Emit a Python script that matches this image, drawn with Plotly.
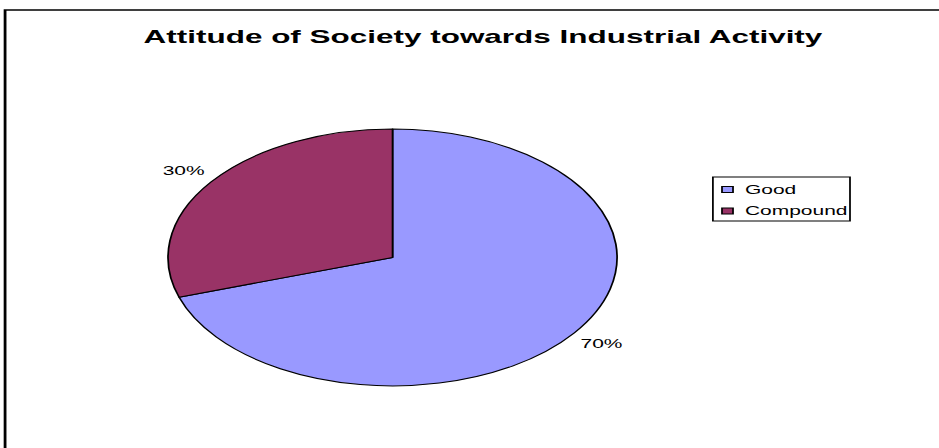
import math
import plotly.graph_objects as go

# Survey result: attitude of society towards industrial activity
categories = ["Good", "Compound"]
values = [70, 30]
colors = ["#9999FF", "#993366"]
title_text = "Attitude of Society towards Industrial Activity"

# The chart is laid out on a narrow canvas and then widened on the page,
# which gives the squashed-wide look (oval pie, broad lettering).
PAGE_W, H = 939, 448
STRETCH = 1.7486
W = round(PAGE_W / STRETCH)  # 537
FONT = "Arial, Liberation Sans, sans-serif"


def px(x):
    return x / W


def py(y):
    return 1 - y / H


# pie placement (canvas pixels)
PIE_X0, PIE_X1, PIE_TOP, PIE_BOT = 96.1, 352.9, 129, 386
cx, cy = (PIE_X0 + PIE_X1) / 2, (PIE_TOP + PIE_BOT) / 2
radius = (PIE_BOT - PIE_TOP) / 2
LABEL_R = 1.15

fig = go.Figure()

fig.add_trace(go.Pie(
    labels=categories, values=values, sort=False,
    direction="clockwise", rotation=0,
    marker=dict(colors=colors, line=dict(color="black", width=1)),
    textinfo="none",
    domain=dict(x=[px(PIE_X0), px(PIE_X1)], y=[py(PIE_BOT), py(PIE_TOP)]),
    showlegend=False, hoverinfo="label+percent",
))

annotations = []

# percentage labels just outside each slice, at its mid angle
total = float(sum(values))
start = 90.0
for val in values:
    sweep = 360.0 * val / total
    mid = math.radians(start - sweep / 2)
    lx = cx + LABEL_R * radius * math.cos(mid)
    ly = cy - LABEL_R * radius * math.sin(mid)
    annotations.append(dict(text=f"{val / total * 100:.0f}%", xref="paper",
                            yref="paper", x=px(lx), y=py(ly),
                            xanchor="center", yanchor="middle",
                            showarrow=False,
                            font=dict(family=FONT, size=12, color="black")))
    start -= sweep

shapes = [
    # outer chart frame
    dict(type="rect", xref="paper", yref="paper",
         x0=px(2.9), x1=1.3, y0=-0.2, y1=py(10),
         line=dict(color="black", width=1.6), fillcolor="rgba(0,0,0,0)"),
    # legend box
    dict(type="rect", xref="paper", yref="paper",
         x0=px(407.7), x1=px(486.1), y0=py(221), y1=py(177),
         line=dict(color="black", width=1), fillcolor="white"),
]
row_y = [189.5, 211]
for name, col, yy in zip(categories, colors, row_y):
    shapes.append(dict(type="rect", xref="paper", yref="paper",
                       x0=px(412.9), x1=px(419.2), y0=py(yy + 3), y1=py(yy - 3),
                       line=dict(color="black", width=1), fillcolor=col))
    annotations.append(dict(text=name, xref="paper", yref="paper",
                            x=px(424.3), y=py(yy), xanchor="left",
                            yanchor="middle", showarrow=False,
                            font=dict(family=FONT, size=12, color="black")))

fig.update_layout(
    width=W, height=H,
    margin=dict(l=0, r=0, t=0, b=0),
    paper_bgcolor="white", plot_bgcolor="white",
    title=dict(text=f"<b>{title_text}</b>", x=px(276.2), y=py(37),
               xanchor="center", yanchor="middle",
               font=dict(family=FONT, size=18, color="black")),
    shapes=shapes, annotations=annotations,
    showlegend=False,
)

widen = (
    "var gd = document.getElementById('{plot_id}');"
    "gd.style.transformOrigin = '0 0';"
    f"gd.style.transform = 'scale({STRETCH}, 1)';"
)

fig.write_html("out.html", post_script=widen)
